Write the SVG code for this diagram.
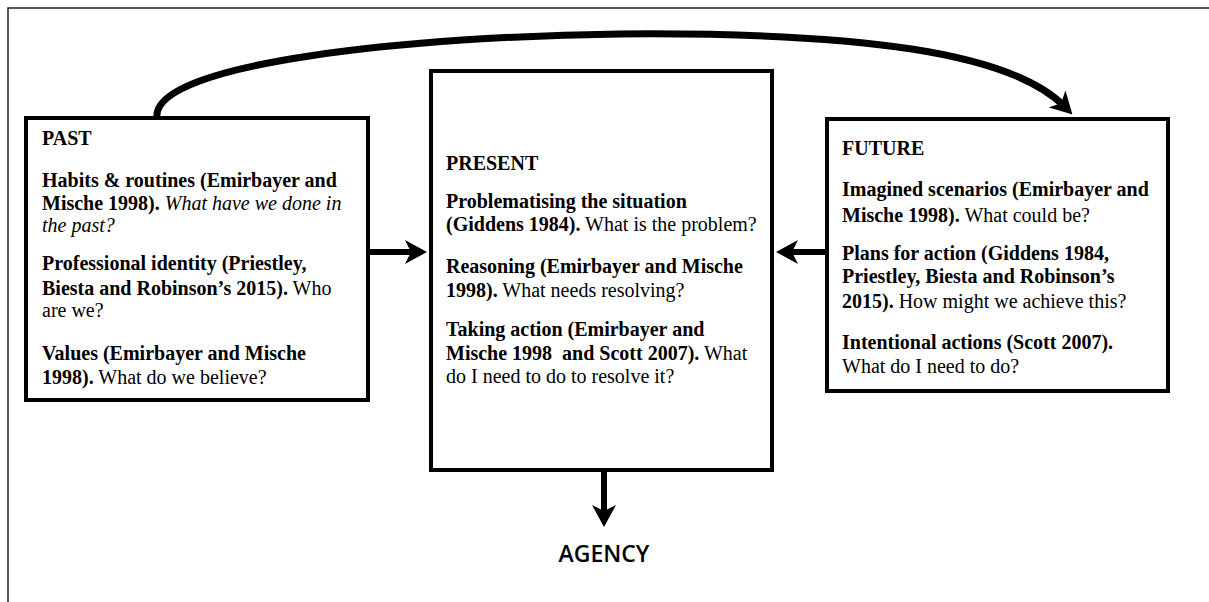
<svg xmlns="http://www.w3.org/2000/svg" width="1209" height="602" viewBox="0 0 1209 602">
<style>
.box{fill:#fff;stroke:#000;stroke-width:4}
.t{font-family:"Liberation Serif","Times New Roman",serif;font-size:20px;fill:#000}
.b{font-weight:bold}
.i{font-style:italic}
.conn{fill:none;stroke:#000}
.ag{font-family:"Open Sans","DejaVu Sans",sans-serif;font-size:23px;font-weight:600;fill:#000}
</style>
<defs>
<marker id="arr" viewBox="0 0 22 24" refX="10" refY="12" markerWidth="22" markerHeight="24" markerUnits="userSpaceOnUse" orient="auto">
<path d="M0,0 L22,12 L0,24 L6,12 Z" fill="#000"/>
</marker>
</defs>
<rect x="8" y="8" width="1210" height="600" fill="#fff" stroke="#222" stroke-width="1.5"/>
<g id="connectors">
<path class="conn" stroke-width="7" d="M157,118 C150,62 420,36 620,34 C860,32 1010,52 1064,106" marker-end="url(#arr)"/>
<line class="conn" stroke-width="6" x1="369" y1="252" x2="415" y2="252" marker-end="url(#arr)"/>
<line class="conn" stroke-width="6" x1="825" y1="252" x2="788" y2="252" marker-end="url(#arr)"/>
<line class="conn" stroke-width="6" x1="604" y1="472" x2="604" y2="515" marker-end="url(#arr)"/>
</g>
<g id="past">
<rect class="box" x="26" y="118" width="342" height="282"/>
<text class="t b" x="42" y="145">PAST</text>
<text class="t" x="42" y="187"><tspan class="b">Habits &amp; routines (Emirbayer and</tspan></text>
<text class="t" x="42" y="210"><tspan class="b">Mische 1998).</tspan> <tspan class="i">What have we done in</tspan></text>
<text class="t i" x="42" y="232">the past?</text>
<text class="t b" x="42" y="270">Professional identity (Priestley,</text>
<text class="t" x="42" y="295"><tspan class="b">Biesta and Robinson’s 2015).</tspan> Who</text>
<text class="t" x="42" y="317">are we?</text>
<text class="t b" x="42" y="360">Values (Emirbayer and Mische</text>
<text class="t" x="42" y="384"><tspan class="b">1998).</tspan> What do we believe?</text>
</g>
<g id="present">
<rect class="box" x="431" y="71" width="341" height="399"/>
<text class="t b" x="446" y="170">PRESENT</text>
<text class="t b" x="446" y="208">Problematising the situation</text>
<text class="t" x="446" y="231"><tspan class="b">(Giddens 1984).</tspan> What is the problem?</text>
<text class="t b" x="446" y="273">Reasoning (Emirbayer and Mische</text>
<text class="t" x="446" y="297"><tspan class="b">1998).</tspan> What needs resolving?</text>
<text class="t b" x="446" y="336">Taking action (Emirbayer and</text>
<text class="t" x="446" y="360"><tspan class="b" xml:space="preserve">Mische 1998  and Scott 2007).</tspan> What</text>
<text class="t" x="446" y="383">do I need to do to resolve it?</text>
</g>
<g id="future">
<rect class="box" x="827" y="119" width="341" height="272"/>
<text class="t b" x="842" y="155">FUTURE</text>
<text class="t b" x="842" y="196">Imagined scenarios (Emirbayer and</text>
<text class="t" x="842" y="222"><tspan class="b">Mische 1998).</tspan> What could be?</text>
<text class="t b" x="842" y="260">Plans for action (Giddens 1984,</text>
<text class="t b" x="842" y="283">Priestley, Biesta and Robinson’s</text>
<text class="t" x="842" y="308"><tspan class="b">2015).</tspan> How might we achieve this?</text>
<text class="t b" x="842" y="349">Intentional actions (Scott 2007).</text>
<text class="t" x="842" y="373">What do I need to do?</text>
</g>
<g id="agency">
<text class="ag" x="604" y="562" text-anchor="middle">AGENCY</text>
</g>
</svg>
